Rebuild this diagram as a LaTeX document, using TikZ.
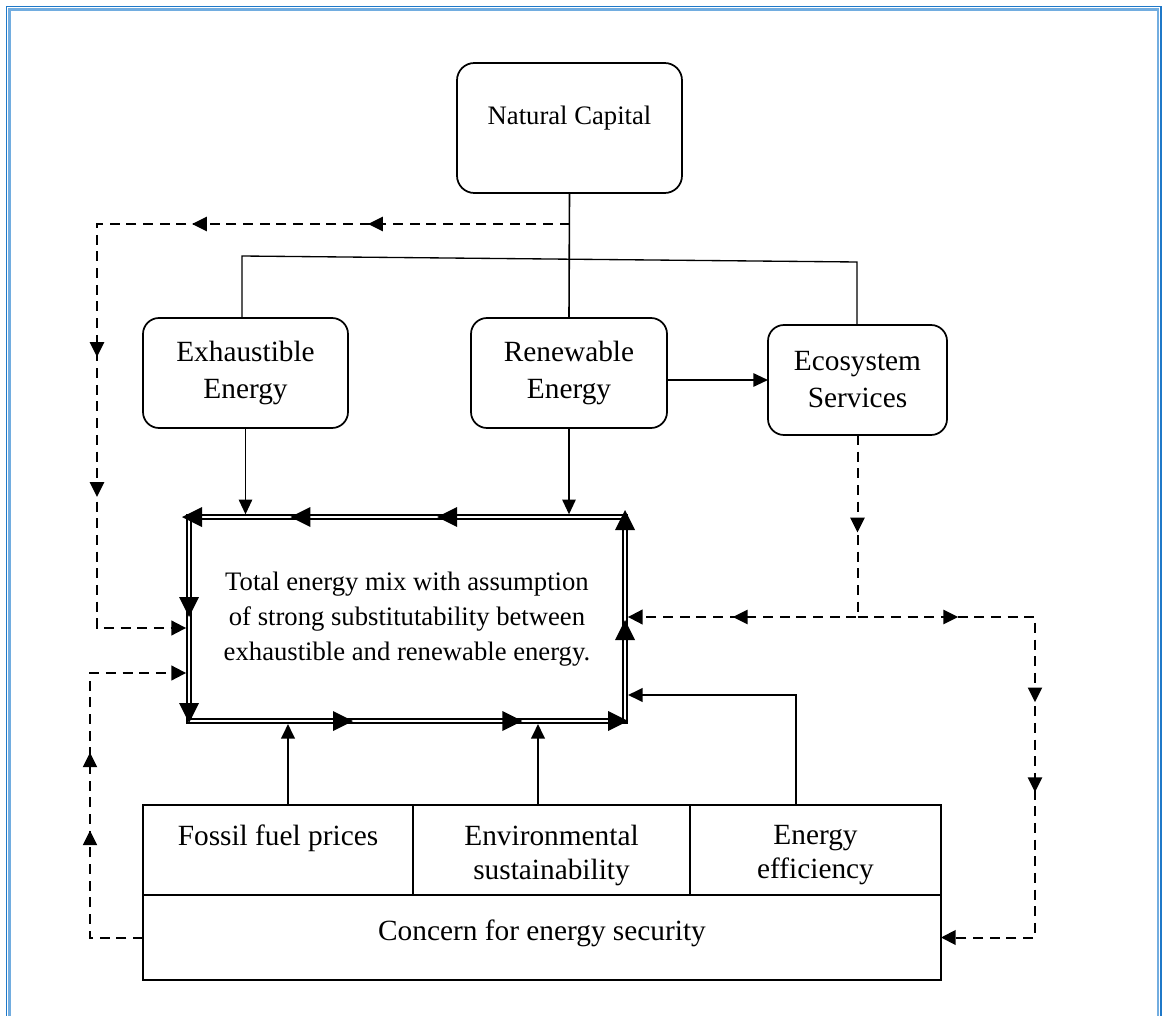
\documentclass[tikz,border=0pt]{standalone}
\usepackage{fontspec}
\setmainfont{Liberation Serif}
\usetikzlibrary{arrows.meta,decorations.markings,calc}
\definecolor{bdark}{HTML}{1F78C8}
\definecolor{blight}{HTML}{72ADE0}
\begin{document}
\begin{tikzpicture}[x=0.75pt,y=-0.75pt,
  every node/.style={inner sep=0pt, outer sep=0pt},
  rbox/.style={draw, line width=1.3pt, rounded corners=12pt, align=center, font=\fontsize{22}{27.75}\selectfont},
  cell/.style={draw, line width=1.4pt},
  celltext/.style={align=center, font=\fontsize{22}{25.5}\selectfont},
  dashedline/.style={line width=1.5pt, dash pattern=on 7.5pt off 5pt},
  dtip/.style={postaction={decorate, decoration={markings, mark=at position #1 with {\fill (0pt,0pt) -- (-11pt,5.5pt) -- (-11pt,-5.5pt) -- cycle;}}}},
  btip/.style={postaction={decorate, decoration={markings, mark=at position #1 with {\fill (0pt,0pt) -- (-15pt,7.5pt) -- (-15pt,-7.5pt) -- cycle;}}}},
  btipend/.style={postaction={decorate, decoration={markings, mark=at position 1 with {\fill (#1,0pt) -- ++(-15pt,7.5pt) -- ++(0pt,-15pt) -- cycle;}}}},
  dend/.style={-{Triangle[length=11pt,width=11pt]}},
  send/.style={-{Triangle[length=11pt,width=10pt]}},
]
\useasboundingbox (0,0) rectangle (1168,1016);
% page frame
\draw[bdark, line width=1.1pt] (6.5,1016) -- (6.5,6.5) -- (1161,6.5) -- (1161,1016);
\draw[blight, line width=1.9pt] (9.5,1016) -- (9.5,9.5) -- (1158,9.5) -- (1158,1016);

% nodes
\node[rbox, rounded corners=13pt, minimum width=225*0.75pt, minimum height=130*0.75pt] (nc) at (569.5,128) {};
\node[font=\fontsize{20}{24}\selectfont] (nct) at (569.5,118) {Natural Capital};
\node[rbox, minimum width=205*0.75pt, minimum height=110*0.75pt] (ex) at (245.5,373) {Exhaustible\\Energy};
\node[rbox, minimum width=196*0.75pt, minimum height=110*0.75pt] (re) at (569,373) {Renewable\\Energy};
\node[rbox, minimum width=179*0.75pt, minimum height=110*0.75pt] (es) at (857.5,380) {Ecosystem\\Services};
\node[minimum width=436*0.75pt, minimum height=204*0.75pt, align=center, font=\fontsize{20}{26}\selectfont] (mix) at (407,619)
  {Total energy mix with assumption\\ of strong substitutability between\\ exhaustible and renewable energy.};

\node[cell, minimum width=270*0.75pt, minimum height=90*0.75pt] (ff) at (278,850) {};
\node[cell, minimum width=277*0.75pt, minimum height=90*0.75pt] (envs) at (551.5,850) {};
\node[cell, minimum width=251*0.75pt, minimum height=90*0.75pt] (ee) at (815.5,850) {};
\node[cell, minimum width=798*0.75pt, minimum height=85*0.75pt] (ces) at (542,937.5) {};
\node[celltext] (fft) at (278,838) {Fossil fuel prices};
\node[celltext] (envt) at (551.5,855) {Environmental\\sustainability};
\node[celltext] (eet) at (815.5,855) {Energy\\efficiency};
\node[celltext] (cest) at (542,933) {Concern for energy security};

% central double border with circulating arrows
\draw[line width=1.1pt, double, double distance=1.8pt] (mix.north east) -- (mix.north west) -- (mix.south west) -- (mix.south east) -- cycle;
\path[btip=141pt, btip=251pt, btipend=5.25pt] (mix.north east) -- (mix.north west);
\path[btip=75pt, btipend=1.5pt] (mix.north west) -- (mix.south west);
\path[btip=123pt, btip=250pt, btipend=2.25pt] (mix.south west) -- (mix.south east);
\path[btip=75.75pt, btipend=5.25pt] (mix.south east) -- (mix.north east);

% tree from Natural Capital
\coordinate (bl) at (242,256);
\coordinate (br) at (857,262);
\draw[line width=1.2pt] (nc.south) -- (re.north);
\draw[line width=1pt] (ex.north -| bl) -- (bl) -- (br) -- (es.north -| br);

% solid arrows
\draw[line width=1.2pt, send, shorten >=2pt] (ex.south) -- (ex.south |- mix.north);
\draw[line width=1.2pt, send, shorten >=2pt] (re.south) -- (re.south |- mix.north);
\draw[line width=1.4pt, send] (re.east |- es.west) -- (es.west);

\coordinate (ffo) at (288,805);
\coordinate (envo) at (538,805);
\coordinate (eeo) at (796,805);
\draw[line width=2pt, send, shorten >=2.2pt] (ffo) -- (ffo |- mix.south);
\draw[line width=2pt, send, shorten >=2.2pt] (envo) -- (envo |- mix.south);
\draw[line width=2pt, send, shorten >=2.2pt] (eeo) -- (796,695) -- (mix.east |- 0,695);

% dashed feedback loops
\coordinate (d1) at (569.5,224);
\draw[dashedline, dend, shorten >=2.2pt, dtip=151pt, dtip=283pt, dtip=454pt, dtip=559pt]
  (d1) -- (97,224) -- (97,628) -- (mix.west |- 0,628);
\coordinate (ej) at (857.5,617);
\draw[dashedline, dend, shorten >=2.2pt, dtip=73pt, dtip=230pt] (es.south) -- (ej) -- (mix.east |- ej);
\draw[dashedline, dend, dtip=75.4pt, dtip=197pt, dtip=264.4pt] (ej) -- (1035,617) -- (1035,937.5) -- (ces.east);
\draw[dashedline, dend, shorten >=2.2pt, dtip=120pt, dtip=178.5pt] (ces.west) -- (90,937.5) -- (90,673) -- (mix.west |- 0,673);
\end{tikzpicture}
\end{document}
